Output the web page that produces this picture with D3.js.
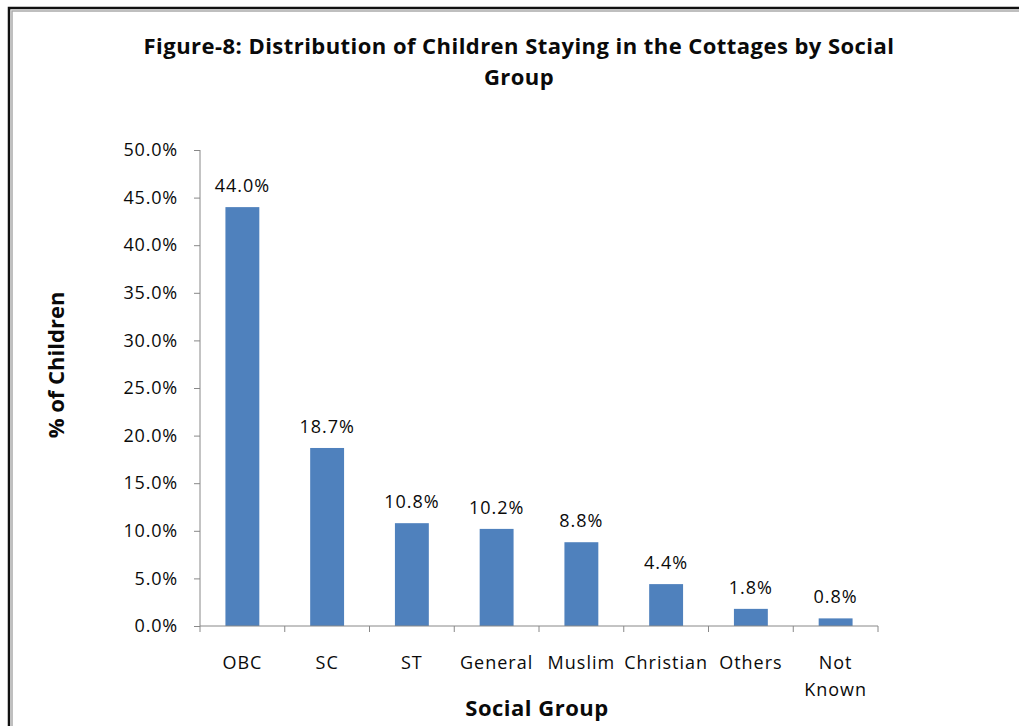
<!DOCTYPE html>
<html>
<head>
<meta charset="utf-8">
<script src="https://cdn.jsdelivr.net/npm/d3@7"></script>
<style>
  html, body { margin: 0; padding: 0; background: #fff; }
  svg { display: block; }
  text { font-family: "Open Sans", sans-serif; fill: #0a0a0a; }
</style>
</head>
<body>
<svg id="chart" width="1019" height="726"></svg>
<script>
// Social groups and share of children (%) in each
const categories = ["OBC", "SC", "ST", "General", "Muslim", "Christian", "Others", "Not Known"];
const values = [44.0, 18.7, 10.8, 10.2, 8.8, 4.4, 1.8, 0.8];
const yTicks = [0, 5, 10, 15, 20, 25, 30, 35, 40, 45, 50];
const titleLines = ["Figure-8: Distribution of Children Staying in the Cottages by Social", "Group"];
const xTitle = "Social Group";
const yTitle = "% of Children";

const FONT = "'Open Sans', sans-serif";
const svg = d3.select("#chart");
const W = 1019, H = 726;

// Outer frame of the chart object
svg.append("rect").attr("x", 0).attr("y", 0).attr("width", W).attr("height", H).attr("fill", "#fff");
svg.append("path")
  .attr("d", `M9,${H} V8 H${W}`)
  .attr("fill", "none").attr("stroke", "#111").attr("stroke-width", 2.5);
svg.append("path")
  .attr("d", `M12,${H} V11 H${W}`)
  .attr("fill", "none").attr("stroke", "#aaa").attr("stroke-width", 1.5);

const plot = { left: 200, right: 878, top: 150, bottom: 626 };

const x = d3.scaleBand()
  .domain(categories)
  .range([plot.left, plot.right])
  .paddingInner(0.6)
  .paddingOuter(0.3);

const y = d3.scaleLinear().domain([0, 50]).range([plot.bottom, plot.top]);

// Bars
svg.append("g").selectAll("rect")
  .data(values)
  .join("rect")
  .attr("x", (d, i) => x(categories[i]))
  .attr("y", d => y(d))
  .attr("width", x.bandwidth())
  .attr("height", d => y(0) - y(d))
  .attr("fill", "#4F81BD");

// Value labels
svg.append("g").selectAll("text")
  .data(values)
  .join("text")
  .attr("x", (d, i) => x(categories[i]) + x.bandwidth() / 2)
  .attr("y", d => y(d) - 15)
  .attr("text-anchor", "middle")
  .attr("font-size", 18)
  .attr("letter-spacing", 1)
  .text(d => d.toFixed(1) + "%");

// Y axis
const yAxis = svg.append("g")
  .attr("transform", `translate(${plot.left},0)`)
  .call(d3.axisLeft(y).tickValues(yTicks).tickSize(6).tickPadding(16)
    .tickFormat(d => d.toFixed(1) + "%"));
yAxis.select(".domain").attr("stroke", "#888").attr("d", `M0,${plot.top}V${plot.bottom}`);
yAxis.selectAll(".tick line").attr("stroke", "#888");
yAxis.selectAll(".tick text")
  .attr("font-size", 18).attr("font-family", FONT).attr("fill", "#0a0a0a")
  .attr("letter-spacing", 0.8);

// X axis: tick marks sit on the category boundaries
const boundaries = d3.range(categories.length + 1)
  .map(i => plot.left + i * (plot.right - plot.left) / categories.length);
const xAxisG = svg.append("g");
xAxisG.append("line")
  .attr("x1", plot.left).attr("x2", plot.right)
  .attr("y1", plot.bottom).attr("y2", plot.bottom)
  .attr("stroke", "#888");
xAxisG.selectAll("line.tk")
  .data(boundaries)
  .join("line")
  .attr("class", "tk")
  .attr("x1", d => d).attr("x2", d => d)
  .attr("y1", plot.bottom).attr("y2", plot.bottom + 6)
  .attr("stroke", "#888");

// Category labels (wrapped onto two lines where needed)
const catLabels = xAxisG.selectAll("text.cat")
  .data(categories)
  .join("text")
  .attr("class", "cat")
  .attr("text-anchor", "middle")
  .attr("font-size", 18)
  .attr("letter-spacing", 1)
  .attr("x", d => x(d) + x.bandwidth() / 2)
  .attr("y", 669);
catLabels.each(function(d) {
  const words = d === "Not Known" ? ["Not", "Known"] : [d];
  const t = d3.select(this);
  words.forEach((w, i) => {
    t.append("tspan").attr("x", x(d) + x.bandwidth() / 2).attr("dy", i === 0 ? 0 : 27).text(w);
  });
});

// Titles
const title = svg.append("text")
  .attr("text-anchor", "middle")
  .attr("font-size", 22)
  .attr("font-weight", "bold")
  .attr("letter-spacing", 0.45);
titleLines.forEach((line, i) => {
  title.append("tspan").attr("x", 519).attr("y", 54 + i * 31).text(line);
});

svg.append("text")
  .attr("x", 537).attr("y", 716)
  .attr("text-anchor", "middle")
  .attr("font-size", 22).attr("font-weight", "bold")
  .attr("letter-spacing", 0.5)
  .text(xTitle);

svg.append("text")
  .attr("transform", "translate(64,365) rotate(-90)")
  .attr("text-anchor", "middle")
  .attr("font-size", 22).attr("font-weight", "bold")
  .text(yTitle);
</script>
</body>
</html>
